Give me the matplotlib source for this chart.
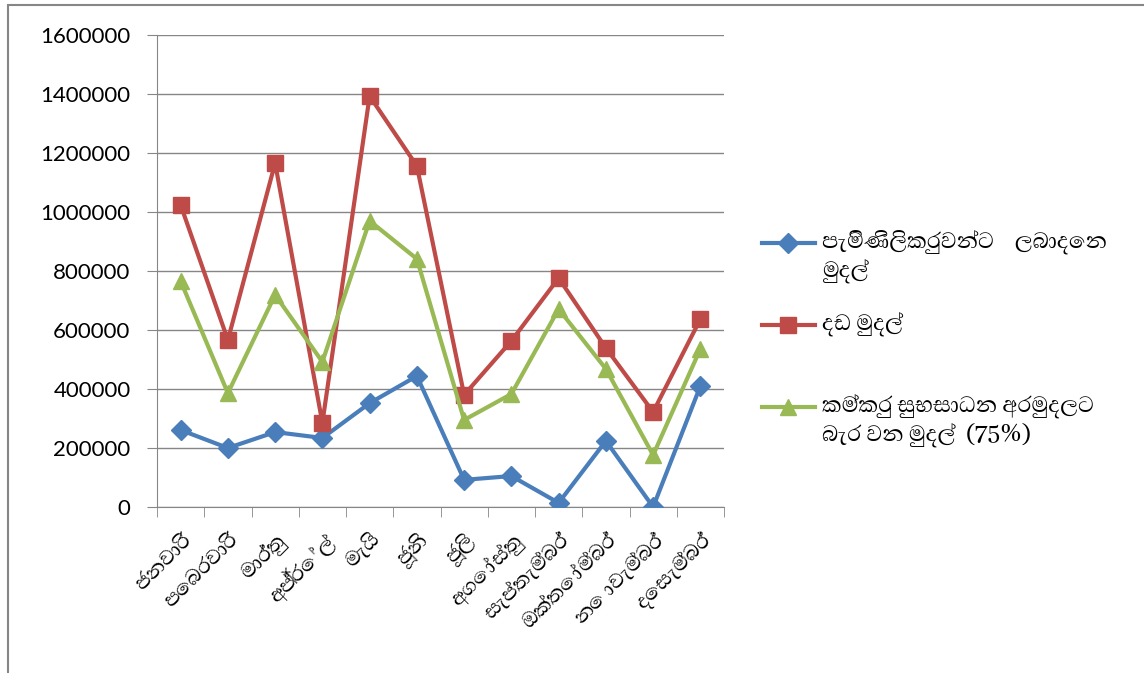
import matplotlib
matplotlib.use("Agg")
import matplotlib.pyplot as plt
from matplotlib.lines import Line2D
from matplotlib.patches import Rectangle

sinhala = ['Abhaya Libre', 'Noto Sans Sinhala', 'DejaVu Sans']

months = ['ජනවාරි', 'පෙබරවාරි', 'මාර්තු', 'අප්‍රේල්', 'මැයි', 'ජූනි',
          'ජූලි', 'අගෝස්තු', 'සැප්තැම්බර්', 'ඔක්තෝම්බර්', 'නොවැම්බර්', 'දෙසැම්බර්']

complainants = [261000, 200000, 254000, 234000, 352000, 444000,
                92000, 105000, 14000, 224000, 0, 410000]
fines = [1024000, 566000, 1166000, 285000, 1393000, 1156000,
         380000, 563000, 776000, 539000, 322000, 637000]
welfare = [766000, 386000, 719000, 492000, 970000, 841000,
           295000, 383000, 671000, 468000, 176000, 536000]

labels = [['පැමිණිලිකරුවන්ට    ලබාදෙන', 'මුදල්'],
          ['දඩ මුදල්'],
          ['කම්කරු සුභසාධන අරමුදලට', 'බැර වන මුදල්  (75%)']]
colors = ['#4A7EBB', '#BE4B48', '#98B954']
markers = ['D', 's', '^']
msizes = [10, 11, 12]

yticks = [0, 200000, 400000, 600000, 800000, 1000000, 1200000, 1400000, 1600000]

W, H = 1144, 673
fig = plt.figure(figsize=(W / 100, H / 100), dpi=100)
ax = fig.add_axes([157 / W, 1 - 507 / H, (724 - 157) / W, (507 - 35) / H])

x = list(range(len(months)))
series = [complainants, fines, welfare]
for vals, c, m, ms in zip(series, colors, markers, msizes):
    ax.plot(x, vals, color=c, lw=3, marker=m, markersize=ms,
            markerfacecolor=c, markeredgecolor=c, zorder=3)

ax.set_xlim(-0.5, len(months) - 0.5)
ax.set_ylim(0, 1600000)
ax.set_yticks(yticks)
ax.set_yticklabels([str(v) for v in yticks], fontfamily='Lato', fontsize=16)
ax.yaxis.grid(True, color='#868686', lw=1)
ax.set_axisbelow(True)
ax.tick_params(axis='y', length=7, color='#868686', pad=12)

ax.set_xticks(x)
ax.set_xticklabels(months, rotation=45, ha='right', rotation_mode='anchor',
                   fontfamily=sinhala, fontsize=19)
ax.set_xticks([i - 0.5 for i in range(len(months) + 1)], minor=True)
ax.tick_params(axis='x', which='major', length=0, pad=16)
ax.tick_params(axis='x', which='minor', length=7, color='#868686')

for s in ['top', 'right']:
    ax.spines[s].set_visible(False)
for s in ['left', 'bottom']:
    ax.spines[s].set_color('#868686')

# legend drawn by hand to keep the first-line alignment
rows = [243, 325, 407]
for lab, c, m, ms, y in zip(labels, colors, markers, msizes, rows):
    fy = 1 - y / H
    fig.add_artist(Line2D([762 / W, 815 / W], [fy, fy], color=c, lw=3))
    fig.add_artist(Line2D([788 / W], [fy], marker=m, markersize=ms,
                          color=c, markeredgecolor=c))
    for k, line in enumerate(lab):
        fig.text(822 / W, 1 - (y + k * 29) / H, line, fontfamily=sinhala,
                 fontsize=20, va='center', ha='left')

fig.add_artist(Rectangle((8 / W, -0.1), 1.2, 1 - 5 / H + 0.1, fill=False,
                         edgecolor='#868686', lw=1.5, transform=fig.transFigure))

fig.savefig('out.png', dpi=100)
